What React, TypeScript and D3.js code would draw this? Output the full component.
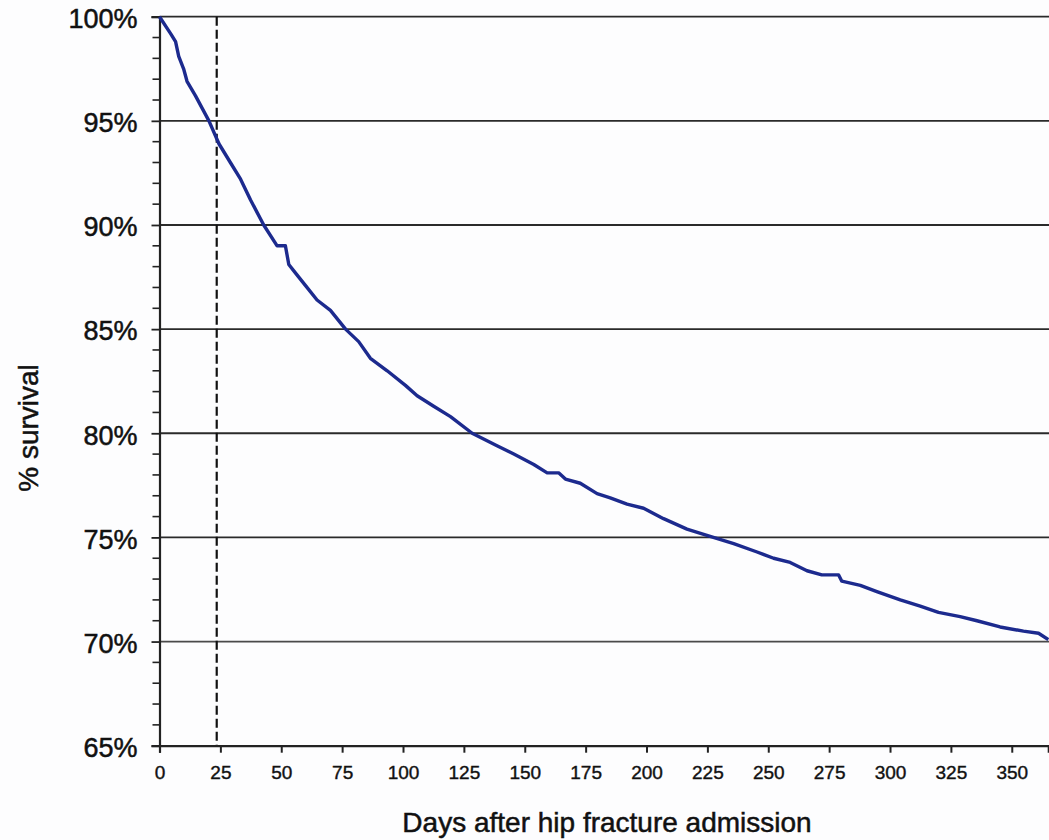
import { useRef, useEffect } from 'react';
import * as d3 from 'd3';

// Kaplan-Meier survival after hip fracture admission
const days = [
  0, 4.5, 6.6, 7.9, 9.9, 11.3, 14.8, 20.3, 24.4, 29.1, 33.3, 37.4, 42.8,
  48.3, 51.7, 53.1, 55.8, 59.9, 64.7, 70.2, 76.4, 81.8, 86.6, 93.5, 101,
  105.8, 112.6, 119.5, 128.4, 138.6, 145.5, 153.7, 159.2, 163.9, 166.7, 172.8,
  179.7, 185.1, 192, 198.8, 207, 216.6, 224.8, 235.8, 245.4, 252.2, 259,
  265.9, 272, 278.9, 280.2, 287.8, 294.6, 304.2, 312.4, 319.9, 328.8, 335.7,
  345.2, 354.8, 361, 365,
];
const survival = [
  100, 99.2, 98.8, 98.1, 97.5, 96.9, 96.2, 95.0, 93.9, 93.0, 92.2, 91.2,
  90.0, 89.0, 89.0, 88.1, 87.7, 87.1, 86.4, 85.9, 85.0, 84.4, 83.6, 83.0,
  82.3, 81.8, 81.3, 80.8, 80.0, 79.4, 79.0, 78.5, 78.1, 78.1, 77.8, 77.6,
  77.1, 76.9, 76.6, 76.4, 75.9, 75.4, 75.1, 74.7, 74.3, 74.0, 73.8, 73.4,
  73.2, 73.2, 72.9, 72.7, 72.4, 72.0, 71.7, 71.4, 71.2, 71.0, 70.7, 70.5,
  70.4, 70.1,
];

const yMajorTicks = [65, 70, 75, 80, 85, 90, 95, 100];
const yMinorTicks = d3.range(66, 100, 1).filter((v) => v % 5 !== 0);
const xTicks = [0, 25, 50, 75, 100, 125, 150, 175, 200, 225, 250, 275, 300, 325, 350];
const markerDay = 23.5; // dashed reference line

const W = 1049;
const H = 840;
const FONT = '"Liberation Sans", Arial, Helvetica, sans-serif';

export default function App() {
  const svgRef = useRef<SVGSVGElement>(null);

  useEffect(() => {
    if (!svgRef.current) return;
    const svg = d3.select(svgRef.current);
    svg.selectAll('*').remove();

    const x = d3.scaleLinear().domain([0, 365]).range([159.5, 1048.3]);
    const y = d3.scaleLinear().domain([65, 100]).range([745.7, 16.7]);

    svg.append('rect').attr('width', W).attr('height', H).attr('fill', '#fdfdfe');

    // horizontal gridlines
    svg
      .append('g')
      .selectAll('line')
      .data(yMajorTicks.filter((v) => v > 65))
      .join('line')
      .attr('x1', x(0))
      .attr('x2', W)
      .attr('y1', (d) => y(d))
      .attr('y2', (d) => y(d))
      .attr('stroke', (d) => (d === 70 ? '#4a4a4a' : '#2a2a2a'))
      .attr('stroke-width', 1.8);

    // dashed marker
    svg
      .append('line')
      .attr('x1', x(markerDay))
      .attr('x2', x(markerDay))
      .attr('y1', y(100))
      .attr('y2', y(65))
      .attr('stroke', '#111')
      .attr('stroke-width', 2.2)
      .attr('stroke-dasharray', '9,4');

    // y axis with minor ticks
    const yAxis = svg.append('g').attr('transform', `translate(${x(0)},0)`);
    yAxis
      .call(
        d3
          .axisLeft(y)
          .tickValues(yMajorTicks)
          .tickSize(8)
          .tickPadding(14)
          .tickFormat((d) => `${d}%`)
      )
      .call((g) => g.select('.domain').attr('stroke', '#222').attr('stroke-width', 2.2))
      .call((g) => g.selectAll('.tick line').attr('stroke', '#222').attr('stroke-width', 1.8))
      .selectAll('text')
      .attr('font-family', FONT)
      .attr('font-size', 27)
      .attr('fill', '#111')
      .attr('stroke', '#111')
      .attr('stroke-width', 0.5)
      .attr('dy', '0.4em');
    yAxis
      .append('g')
      .selectAll('line')
      .data(yMinorTicks)
      .join('line')
      .attr('x1', -7)
      .attr('x2', 0)
      .attr('y1', (d) => y(d))
      .attr('y2', (d) => y(d))
      .attr('stroke', '#222')
      .attr('stroke-width', 1.6);

    // x axis
    svg
      .append('g')
      .attr('transform', `translate(0,${y(65)})`)
      .call(d3.axisBottom(x).tickValues(xTicks).tickSize(7).tickPadding(13))
      .call((g) => g.select('.domain').attr('stroke', '#222').attr('stroke-width', 2.2))
      .call((g) => g.selectAll('.tick line').attr('stroke', '#222').attr('stroke-width', 2))
      .selectAll('text')
      .attr('font-family', FONT)
      .attr('font-size', 19)
      .attr('fill', '#111')
      .attr('stroke', '#111')
      .attr('stroke-width', 0.4);

    // survival curve
    const pts: [number, number][] = days.map((d, i) => [d, survival[i]]);
    svg
      .append('path')
      .datum(pts)
      .attr('fill', 'none')
      .attr('stroke', '#1c2a8e')
      .attr('stroke-width', 3.4)
      .attr('stroke-linejoin', 'round')
      .attr(
        'd',
        d3
          .line<[number, number]>()
          .x((d) => x(d[0]))
          .y((d) => y(d[1]))
      );

    // axis titles
    svg
      .append('text')
      .attr('x', 607)
      .attr('y', 832)
      .attr('text-anchor', 'middle')
      .attr('font-family', FONT)
      .attr('font-size', 28)
      .attr('fill', '#111')
      .attr('stroke', '#111')
      .attr('stroke-width', 0.5)
      .text('Days after hip fracture admission');

    svg
      .append('text')
      .attr('transform', 'translate(38,428) rotate(-90)')
      .attr('text-anchor', 'middle')
      .attr('font-family', FONT)
      .attr('font-size', 28)
      .attr('fill', '#111')
      .attr('stroke', '#111')
      .attr('stroke-width', 0.5)
      .text('% survival');
  }, []);

  return (
    <svg
      ref={svgRef}
      width={W}
      height={H}
      style={{ position: 'absolute', left: 0, top: 0 }}
    ></svg>
  );
}
